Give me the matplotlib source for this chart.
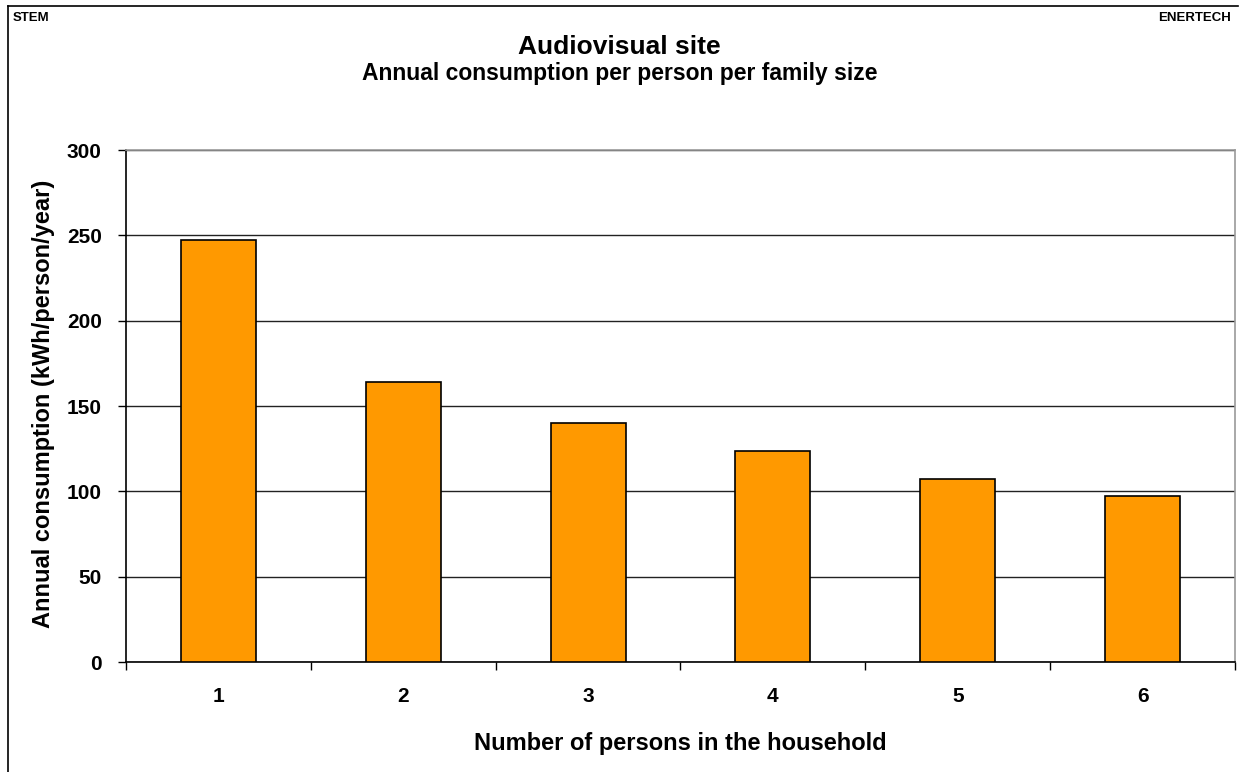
import matplotlib
matplotlib.use("Agg")
import matplotlib.pyplot as plt
from matplotlib.lines import Line2D
import numpy as np

plt.rcParams['font.family'] = ['Liberation Sans', 'DejaVu Sans']
plt.rcParams['font.weight'] = 'bold'

categories = ["1", "2", "3", "4", "5", "6"]
values = [247, 164, 140, 123.5, 107.5, 97.5]
yticks = [0, 50, 100, 150, 200, 250, 300]

W, H = 1244, 772
fig = plt.figure(figsize=(W/100, H/100), dpi=100)
fig.patch.set_facecolor('white')

def fx(px):
    return px / W

def fy(py):
    return 1 - py / H

# outer frame (left and top edges visible)
fig.add_artist(Line2D([fx(8), fx(8)], [fy(6), fy(780)], transform=fig.transFigure,
                      color='black', linewidth=1.2))
fig.add_artist(Line2D([fx(8), fx(1238)], [fy(6), fy(6)], transform=fig.transFigure,
                      color='black', linewidth=1.2))

ax = fig.add_axes([fx(126), fy(662), (1235-126)/W, (662-150)/H])
x = np.arange(len(categories))
ax.bar(x, values, width=0.405, color='#FF9900', edgecolor='black', linewidth=1.2, zorder=3)
ax.set_xlim(-0.5, len(categories) - 0.5)
ax.set_ylim(0, 300)
ax.set_yticks(yticks)
ax.set_yticklabels([str(t) for t in yticks], fontsize=15, fontweight='bold')
ax.set_xticks(x)
ax.set_xticklabels(categories, fontsize=15, fontweight='bold')
ax.tick_params(axis='x', length=0, pad=18)
ax.set_xticks(np.arange(-0.5, len(categories)), minor=True)
ax.tick_params(axis='x', which='minor', length=6, direction='out', width=1)
ax.tick_params(axis='y', length=6, direction='out', width=1, pad=11.5)
ax.yaxis.grid(True, color='#222222', linewidth=1.0, zorder=0)
ax.set_axisbelow(True)
for s in ['top', 'right']:
    ax.spines[s].set_color('#999999')
    ax.spines[s].set_linewidth(1.2)
for s in ['left', 'bottom']:
    ax.spines[s].set_color('black')
    ax.spines[s].set_linewidth(1.2)

fig.text(fx(680.5), fy(750), "Number of persons in the household", ha='center', va='baseline',
         fontsize=17, fontweight='bold')
fig.text(fx(50), fy(404), "Annual consumption (kWh/person/year)", ha='center', va='baseline',
         rotation=90, rotation_mode='anchor', fontsize=17, fontweight='bold')

fig.text(fx(619.5), fy(54), "Audiovisual site", ha='center', va='baseline', fontsize=19, fontweight='bold')
fig.text(fx(619.5), fy(80), "Annual consumption per person per family size", ha='center', va='baseline',
         fontsize=16.5, fontweight='bold')
fig.text(fx(13), fy(18), "STEM", ha='left', va='center', fontsize=9.5, fontweight='bold')
fig.text(fx(1231), fy(18), "ENERTECH", ha='right', va='center', fontsize=9.5, fontweight='bold')

fig.savefig("out.png", dpi=100)
